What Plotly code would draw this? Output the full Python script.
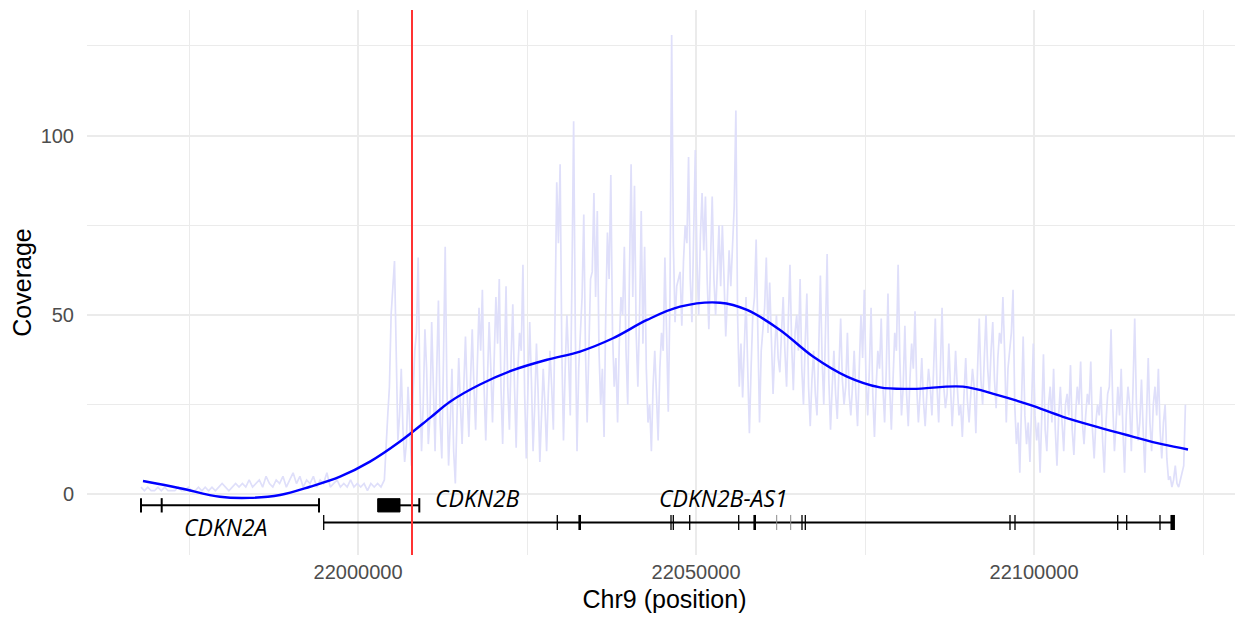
import plotly.graph_objects as go

# ---------------- data ----------------
cov_start = 21967900
cov_step = 500
# coverage read at cov_start + i*cov_step
coverage = [
    2, 1, 2, 1, 1, 2, 1, 2, 1, 1,
    1, 2, 1, 1, 2, 1, 1, 2, 1, 2,
    1, 2, 1, 2, 3, 2, 1, 2, 3, 2,
    3, 2, 4, 2, 3, 4, 2, 5, 3, 2,
    4, 3, 5, 2, 4, 6, 3, 5, 2, 4,
    3, 5, 2, 4, 3, 6, 2, 3, 4, 2,
    3, 2, 4, 2, 3, 2, 3, 1, 3, 2,
    3, 2, 4,
    22, 50, 65, 15, 35, 9, 30,
    8, 40, 66, 12, 46, 14, 48, 12, 54, 10,
    69, 8, 35, 3, 38, 14, 44, 16, 46, 18,
    52, 57, 15, 48, 20, 55, 60, 14, 58, 18,
    53, 13, 45, 64, 10, 48, 12, 42, 9, 35,
    12, 40, 18, 87, 92, 15, 50, 22, 104, 12,
    45, 78, 20, 60, 84, 79, 25, 16, 73, 89,
    30, 20, 55, 69, 25, 92, 86, 30, 79, 69,
    20, 12, 40, 15, 45, 66, 23, 128, 48, 60,
    47, 75, 94, 48, 96, 50, 84, 83, 46, 83,
    50, 75, 75, 44, 68, 71, 107, 30, 27, 55,
    17, 50, 71, 20, 45, 66, 59, 28, 50, 34,
    55, 30, 64, 29, 50, 60, 25, 56, 19, 40,
    22, 61, 25, 67, 18, 40, 21, 49, 25, 45,
    22, 40, 19, 50, 57, 22, 52, 16, 40, 49,
    20, 56, 18, 45, 64, 22, 47, 19, 42, 51,
    20, 38, 19, 35, 22, 49, 20, 52, 24, 42,
    19, 40, 22, 16, 38, 20, 35, 17, 49, 25,
    50, 28, 48, 24, 45, 55, 20, 40, 57, 14,
    6, 44, 14, 9, 42, 15, 6, 39, 12, 30,
    35, 8, 30, 12, 28, 36, 11, 30, 37, 14,
    28, 37, 10, 25, 30, 6, 28, 46, 12, 30,
    35, 6, 30, 12, 49, 15, 32, 6, 38, 12,
    30, 35, 10, 25, 4, 2, 8, 2, 6, 25,
]
# coverage read half-way between samples (cov_start + 250 + i*cov_step), i from 73
half_first = 73
coverage_half = [
    30, 58, 40, 22, 18, 14, 20,
    28, 45, 30, 25, 35, 22, 30, 35, 20, 38,
    30, 20, 12, 22, 25, 30, 28, 32, 30, 36,
    40, 30, 32, 35, 38, 42, 30, 35, 30, 38,
    30, 35, 40, 28, 30, 32, 25, 28, 22, 25,
    28, 30, 50, 70, 40, 35, 38, 60, 45, 35,
    55, 40, 45, 62, 55, 40, 35, 50, 60, 45,
    38, 42, 50, 40, 60, 55, 45, 50, 42, 35,
    25, 30, 28, 35, 40, 45, 55, 70, 58, 62,
    65, 70, 60, 75, 65, 72, 68, 60, 65, 60,
    62, 58, 60, 55, 58, 80, 50, 42, 40, 35,
    35, 55, 45, 40, 52, 45, 42, 40, 38, 45,
    40, 48, 42, 45, 40, 35, 42, 30, 32, 28,
    40, 38, 45, 32, 30, 28, 35, 32, 30, 28,
    30, 28, 35, 38, 32, 35, 28, 30, 35, 30,
    35, 30, 32, 40, 38, 30, 28, 32, 35, 30,
    28, 26, 28, 30, 35, 30, 35, 30, 28, 30,
    28, 30, 25, 28, 26, 28, 30, 35, 32, 38,
    35, 40, 32, 38, 42, 40, 35, 45, 25, 20,
    25, 22, 20, 25, 22, 20, 22, 18, 25, 20,
    18, 22, 20, 25, 22, 18, 22, 25, 20, 22,
    25, 18, 20, 22, 15, 20, 30, 25, 20, 22,
    18, 22, 25, 30, 25, 20, 18, 22, 20, 25,
    22, 18, 20, 10, 5, 4, 3, 4, 8,
]

smooth_pos = [21968195, 21973668, 21979586, 21984024, 21988462, 21992899, 21997337,
              22001775, 22006213, 22010651, 22013610, 22018047, 22022929,
              22027959, 22032840, 22037722, 22042752, 22047633, 22053551, 22057545,
              22062426, 22067308, 22072338, 22077219, 22082101, 22089498, 22094527,
              22099409, 22104291, 22109320, 22114202, 22119084, 22122782]
smooth_val = [3.7, 1.7, -0.7, -1.0, -0.2, 2.1, 4.9, 9.1, 14.7, 21.3, 25.8, 30.6,
              34.6, 37.5, 39.8, 43.5, 48.6, 52.3, 53.4, 51.4, 45.8, 38.4, 32.8, 29.8,
              29.4, 30.0, 27.7, 24.9, 21.6, 18.8, 16.3, 13.9, 12.5]

marker_pos = 22007988

gene_names = ["CDKN2A", "CDKN2B", "CDKN2B-AS1"]
gene_start = [21967899, 22006213, 21994926]
gene_end = [21994231, 22009068, 22120711]
gene_label_pos = [21980500, 22017678, 22053994]

cdkn2a_ticks = [21967899, 21970961, 21994231]
cdkn2b_box = [22002914, 22006213]
cdkn2b_ticks = [22009068]
as1_ticks = [21994926, 22029482, 22046302, 22046642, 22049068, 22056317,
             22065681, 22066169, 22096450, 22097190, 22112382, 22113714, 22118640]
as1_thick = [22032796, 22058684]
as1_grey = [22061938, 22064009]
as1_end = [22120519]

x_ticks = [22000000, 22050000, 22100000]
x_minor = [21975000, 22025000, 22075000, 22125000]
y_ticks = [0, 50, 100]
y_minor = [25, 75, 125]

# ---------------- merge coverage samples in position order ----------------
cov_points = [(cov_start + i * cov_step, v) for i, v in enumerate(coverage)]
cov_points += [(cov_start + cov_step // 2 + (half_first + i) * cov_step, v)
               for i, v in enumerate(coverage_half)]
cov_points.sort()
cov_x = [p for p, _ in cov_points]
cov_y = [v for _, v in cov_points]

# ---------------- layout constants ----------------
ROW_A = -3.07      # CDKN2A / CDKN2B row
ROW_B = -7.86      # CDKN2B-AS1 row
LABEL_A_Y = -9.2
LABEL_TOP_Y = -0.9


def tick_trace(positions, yc, half, width, color="black"):
    xs, ys = [], []
    for p in positions:
        xs += [p, p, None]
        ys += [yc - half, yc + half, None]
    return go.Scatter(x=xs, y=ys, mode="lines", line=dict(color=color, width=width),
                      hoverinfo="skip", showlegend=False)


fig = go.Figure()

fig.add_trace(go.Scatter(x=cov_x, y=cov_y, mode="lines",
                         line=dict(color="#DFDFFA", width=1.7), showlegend=False))

# gene lines
fig.add_trace(go.Scatter(
    x=[gene_start[0], gene_end[0], None, gene_start[1], gene_end[1], None, gene_start[2], gene_end[2]],
    y=[ROW_A, ROW_A, None, ROW_A, ROW_A, None, ROW_B, ROW_B],
    mode="lines", line=dict(color="black", width=2), showlegend=False))
fig.add_trace(tick_trace(cdkn2a_ticks, ROW_A, 2.0, 2))
fig.add_trace(tick_trace(cdkn2b_ticks, ROW_A, 2.0, 2))
fig.add_trace(go.Scatter(
    x=[cdkn2b_box[0], cdkn2b_box[1], cdkn2b_box[1], cdkn2b_box[0], cdkn2b_box[0]],
    y=[ROW_A - 1.85, ROW_A - 1.85, ROW_A + 1.85, ROW_A + 1.85, ROW_A - 1.85],
    mode="lines", fill="toself", fillcolor="black", line=dict(color="black", width=1),
    showlegend=False))
fig.add_trace(tick_trace(as1_ticks, ROW_B, 2.1, 1.3))
fig.add_trace(tick_trace(as1_grey, ROW_B, 2.1, 1.0, "#8a8a8a"))
fig.add_trace(tick_trace(as1_thick, ROW_B, 2.1, 2.6))
fig.add_trace(tick_trace(as1_end, ROW_B, 2.1, 4.5))

# smooth curve
fig.add_trace(go.Scatter(x=smooth_pos, y=smooth_val, mode="lines",
                         line=dict(color="#0000FF", width=2.4, shape="spline", smoothing=1.0),
                         showlegend=False))

fig.add_shape(type="line", x0=marker_pos, x1=marker_pos, y0=0, y1=1, xref="x", yref="paper",
              line=dict(color="#FF3333", width=2))

label_y = [LABEL_A_Y, LABEL_TOP_Y, LABEL_TOP_Y]
for name, pos, ly in zip(gene_names, gene_label_pos, label_y):
    fig.add_annotation(x=pos, y=ly, xref="x", yref="y", text=name, showarrow=False,
                       font=dict(family="Open Sans", size=23, color="black", style="italic"),
                       xanchor="center", yanchor="middle")

fig.update_layout(
    width=1243, height=617,
    margin=dict(l=79, r=9, t=2, b=70),
    plot_bgcolor="white", paper_bgcolor="white",
    showlegend=False,
    font=dict(family="Liberation Sans, Arial, sans-serif"),
)
fig.update_xaxes(
    range=[21959911, 22130770],
    tickmode="array", tickvals=x_ticks, ticktext=[str(v) for v in x_ticks],
    tickfont=dict(size=20, color="#4D4D4D"),
    showgrid=True, gridcolor="#EBEBEB", gridwidth=1.6,
    minor=dict(tickmode="array", tickvals=x_minor, showgrid=True, gridcolor="#EBEBEB", gridwidth=0.8),
    zeroline=False, showline=False, ticks="",
    ticklabelstandoff=3, automargin=False,
    title=dict(text="Chr9 (position)", font=dict(size=25, color="black"), standoff=8),
)
fig.update_yaxes(
    range=[-16.92, 135.0],
    tickmode="array", tickvals=y_ticks, ticktext=[str(v) for v in y_ticks],
    tickfont=dict(size=20, color="#4D4D4D"),
    showgrid=True, gridcolor="#EBEBEB", gridwidth=1.6,
    minor=dict(tickmode="array", tickvals=y_minor, showgrid=True, gridcolor="#EBEBEB", gridwidth=0.8),
    zeroline=False, showline=False, ticks="",
    ticklabelstandoff=12, automargin=False,
    title=dict(text="Coverage", font=dict(size=25, color="black"), standoff=1),
)

fig.write_html("out.html")
